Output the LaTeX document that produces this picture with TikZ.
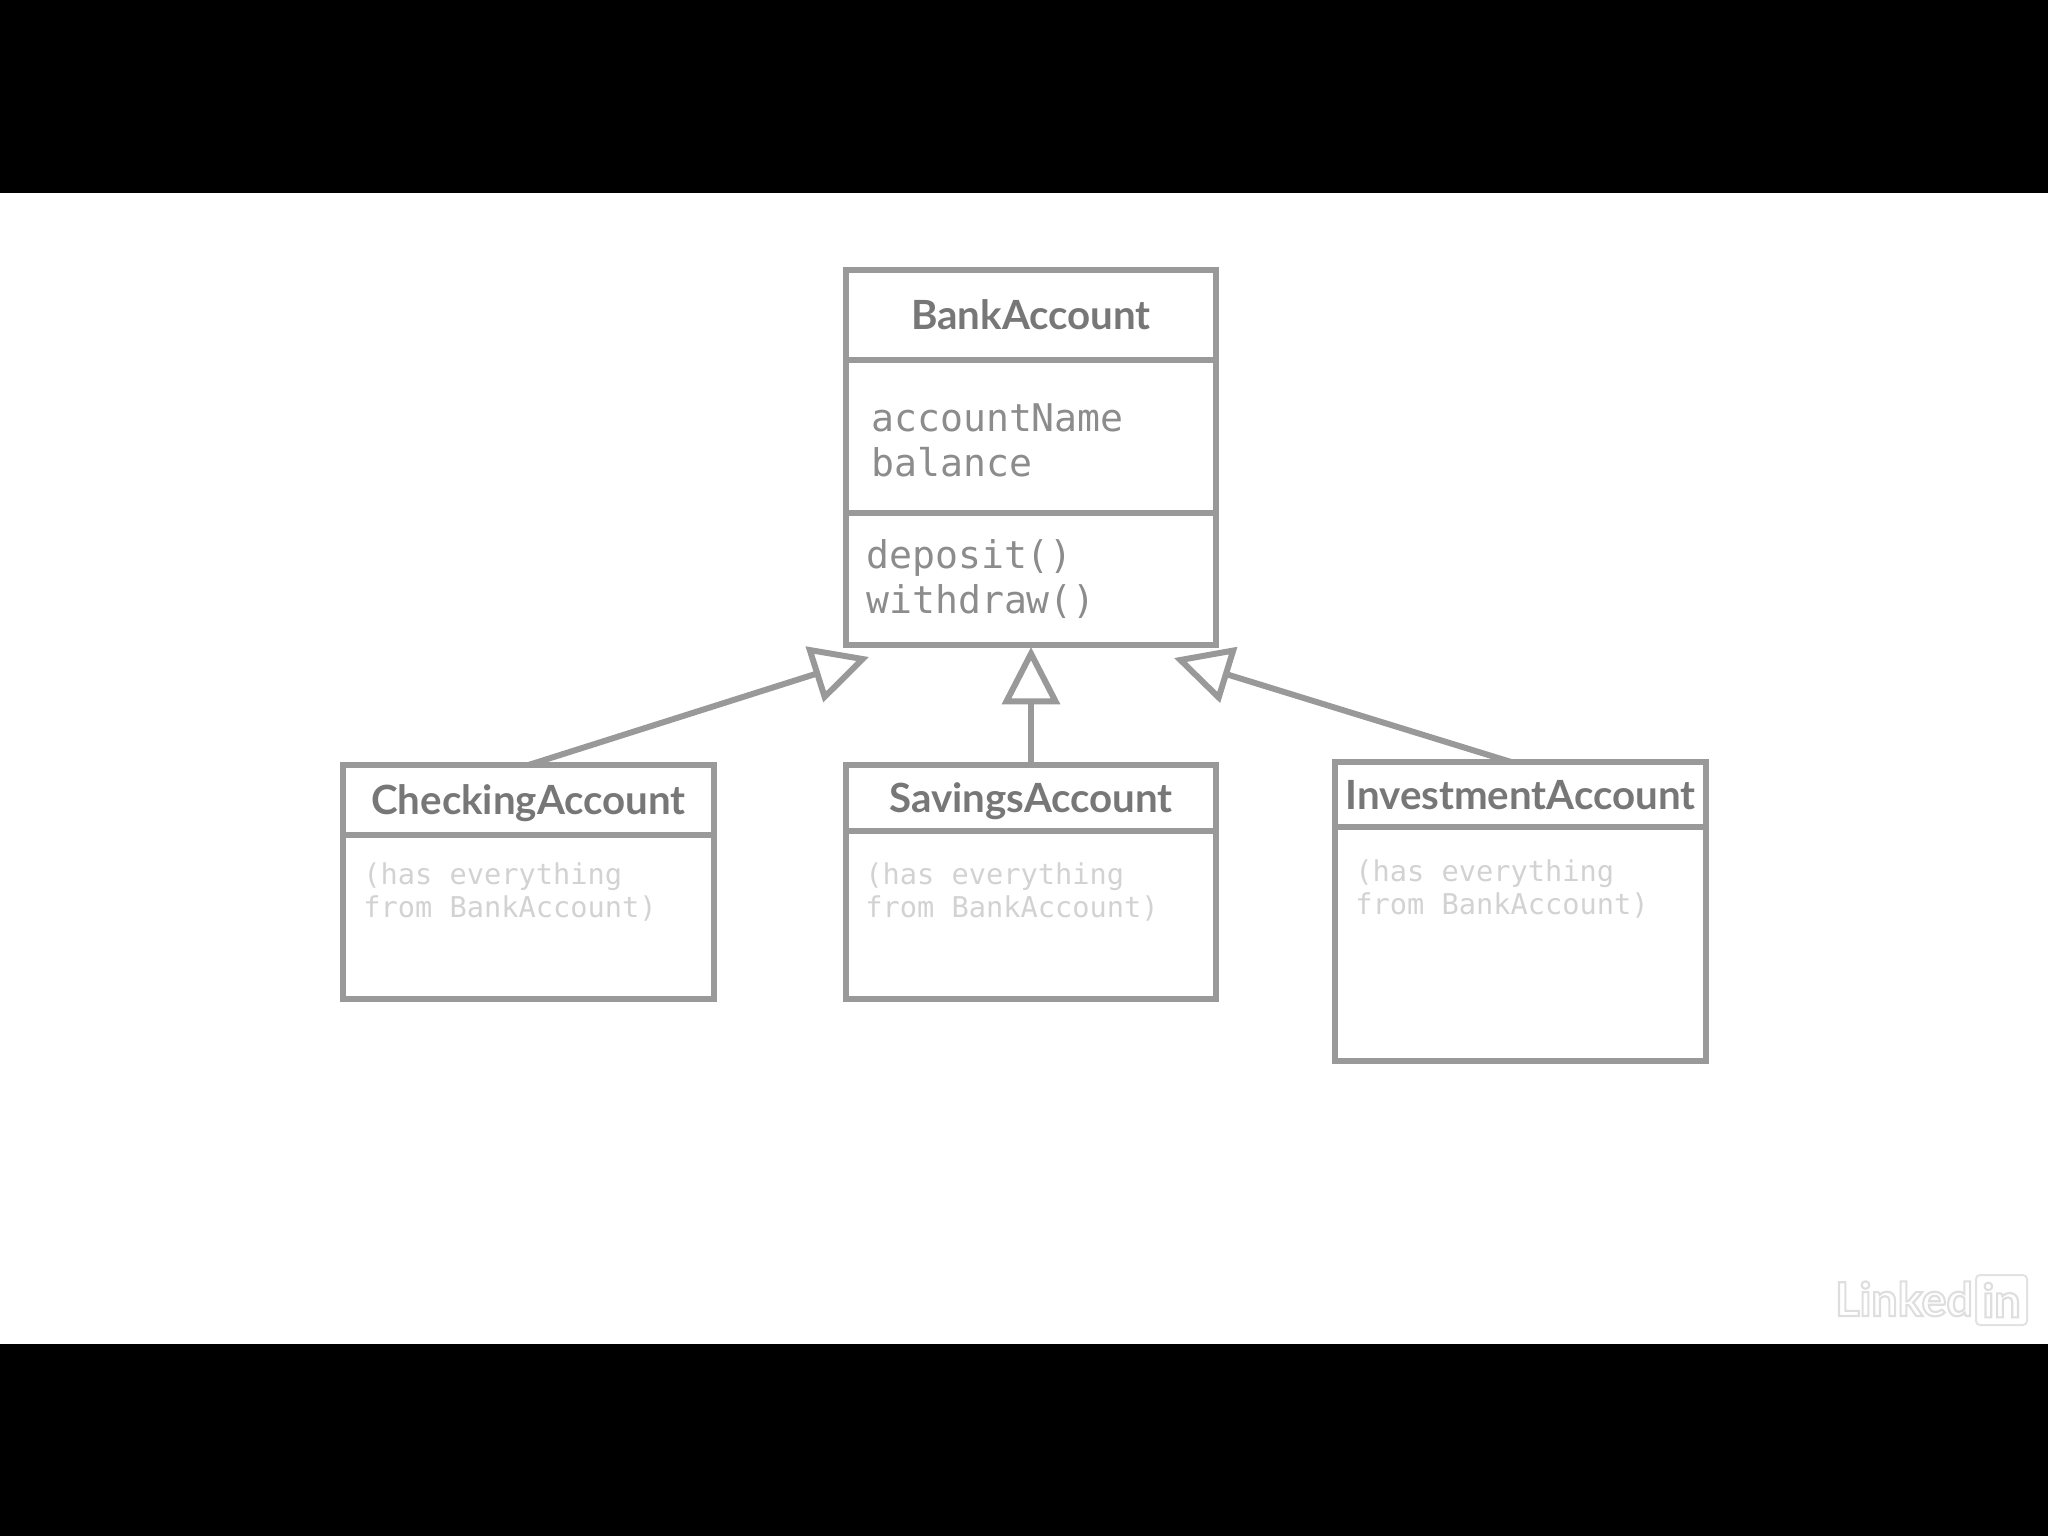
\documentclass[tikz,border=0pt]{standalone}
\usepackage{fontspec}
\usetikzlibrary{arrows.meta}
\newfontfamily\titlefont{Lato}
\newfontfamily\memberfont{DejaVu Sans Mono}
\newcommand{\outlined}[1]{\special{pdf:literal direct 1 Tr 1.6 w 0.87 G}#1\special{pdf:literal direct 0 Tr 0 G}}
\definecolor{boxgray}{HTML}{999999}
\definecolor{titlegray}{HTML}{777777}
\definecolor{membergray}{HTML}{8C8C8C}
\definecolor{notegray}{HTML}{D2D2D2}
\definecolor{markgray}{HTML}{E2E2E2}
\tikzset{
  classbox/.style 2 args={draw=boxgray,line width=4.5pt,inner sep=0pt,outer sep=0pt,anchor=north west,
    minimum width=#1*0.75pt,minimum height=#2*0.75pt,text=titlegray},
  classtitle/.style={text height=26pt,text depth=4pt,font=\titlefont\bfseries\fontsize{#1}{#1}\selectfont},
  membertext/.style={anchor=north west,inner sep=0pt,align=left,text=membergray,
    font=\memberfont\fontsize{28.6}{33.8}\selectfont},
  notetext/.style={anchor=north west,inner sep=0pt,align=left,text=notegray,
    font=\memberfont\fontsize{21.5}{25.4}\selectfont},
  inherits/.style={draw=boxgray,line width=4.5pt,-{Triangle[open,fill=white,length=43pt,width=43pt]}},
}
\begin{document}
\begin{tikzpicture}[x=0.75pt,y=0.75pt,yscale=-1,xscale=1]
    \useasboundingbox (0,0) rectangle (2048,1536);

    %Black bars
    \fill[black] (0,0) rectangle (2048,193);
    \fill[black] (0,1344) rectangle (2048,1536);

    %BankAccount
    \node (bankName) [classbox={370}{90},classtitle=30.2] at (846,270) {BankAccount};
    \node (bankFields) [classbox={370}{153}] at (846,360) {};
    \node (bankMethods) [classbox={370}{132}] at (846,513) {};

    %Subclasses
    \node (checkingName) [classbox={371}{70},classtitle=30.2] at (343,765) {CheckingAccount};
    \node (checkingBody) [classbox={371}{164}] at (343,835) {};
    \node (savingsName) [classbox={370}{66},classtitle=30.2] at (846,765) {SavingsAccount};
    \node (savingsBody) [classbox={370}{168}] at (846,831) {};
    \node (investmentName) [classbox={371}{65},classtitle=30.2] at (1335,762) {InvestmentAccount};
    \node (investmentBody) [classbox={371}{234}] at (1335,827) {};

    % Text Node
    \node (fieldText) [membertext] at (871,403) {accountName\\balance};
    % Text Node
    \node (methodText) [membertext] at (866,539) {deposit()\\withdraw()};
    % Text Node
    \node (checkingNote) [notetext] at (363,862) {(has everything\\from BankAccount)};
    % Text Node
    \node (savingsNote) [notetext] at (865,862) {(has everything\\from BankAccount)};
    % Text Node
    \node (investmentNote) [notetext] at (1355,859) {(has everything\\from BankAccount)};

    %Inheritance arrows
    \coordinate (tipLeft) at (869,657);
    \coordinate (tipMiddle) at (1031,647);
    \coordinate (tipRight) at (1174,658);
    \draw[inherits] (checkingName.north) -- (tipLeft);
    \draw[inherits] (savingsName.north) -- (tipMiddle);
    \draw[inherits] ([xshift=-7pt]investmentName.north) -- (tipRight);

    %Watermark
    \node (markWord) [anchor=base west,inner sep=0pt,font=\titlefont\bfseries\fontsize{35}{35}\selectfont]
      at (1835,1316) {\outlined{Linked}};
    \node (markBox) [draw=markgray,line width=1.5pt,rounded corners=3pt,inner sep=0pt,anchor=north west,
      minimum width=51*0.75pt,minimum height=50*0.75pt,font=\titlefont\bfseries\fontsize{35}{35}\selectfont]
      at (1975,1274) {\outlined{in}};
\end{tikzpicture}
\end{document}
